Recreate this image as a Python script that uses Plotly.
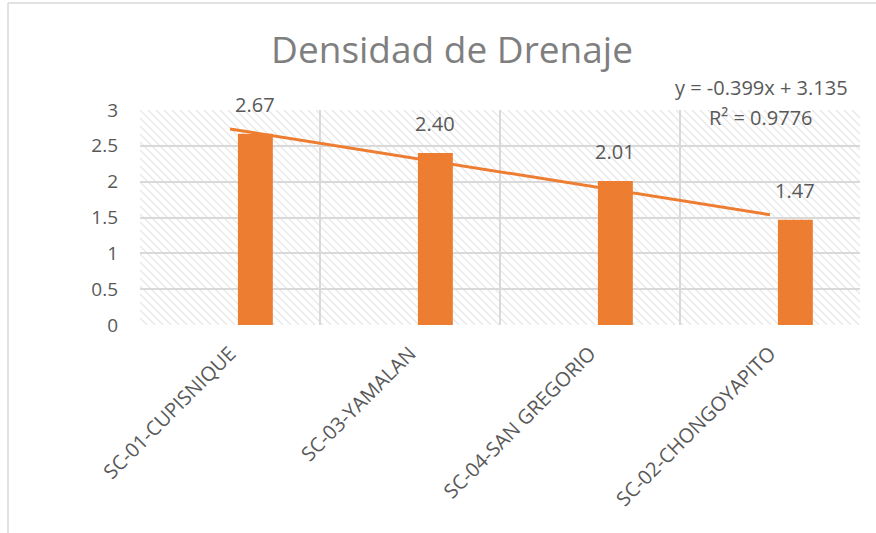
import numpy as np
import plotly.graph_objects as go

categories = ["SC-01-CUPISNIQUE", "SC-03-YAMALAN", "SC-04-SAN GREGORIO", "SC-02-CHONGOYAPITO"]
densidad = [2.67, 2.40, 2.01, 1.47]
y_ticks = [0, 0.5, 1, 1.5, 2, 2.5, 3]

ORANGE = "#ED7D31"
GRID = "#d9d9d9"
TXT = "#595959"
FONT = "Open Sans"

W, H = 876, 533
ML, MR, MT, MB = 140, 16, 110, 208
PW, PH = W - ML - MR, H - MT - MB

BAR_W, BAR_OFF = 0.194, 0.044

pos = np.arange(1, len(categories) + 1)
slope, intercept = np.polyfit(pos, densidad, 1)
fit = slope * pos + intercept
yarr = np.array(densidad)
r2 = 1 - np.sum((yarr - fit) ** 2) / np.sum((yarr - yarr.mean()) ** 2)

x_lo, x_hi = 0.5, len(categories) + 0.5
y_lo, y_hi = y_ticks[0], y_ticks[-1]


def px2x(px):
    return x_lo + px / PW * (x_hi - x_lo)


def py2y(py):
    return y_hi - py / PH * (y_hi - y_lo)


# diagonal hatch of the plot area (decoration), drawn below the gridlines
step = 8
segs = []
c = -PW
while c < PH:
    x0 = max(0, -c)
    x1 = min(PW, PH - c)
    if x1 > x0:
        segs.append(f"M{px2x(x0):.5f},{py2y(x0 + c):.5f} L{px2x(x1):.5f},{py2y(x1 + c):.5f}")
    c += step
hatch_path = " ".join(segs)

fig = go.Figure()

fig.add_trace(go.Bar(
    x=pos, y=densidad, width=BAR_W, offset=BAR_OFF,
    marker=dict(color=ORANGE, line=dict(width=0)),
    showlegend=False, hoverinfo="skip"))

fig.add_trace(go.Scatter(
    x=pos, y=fit, mode="lines", line=dict(color=ORANGE, width=3),
    showlegend=False, hoverinfo="skip"))

annotations = [
    dict(text=f"{v:.2f}", x=p + BAR_OFF + BAR_W / 2, y=v, xref="x", yref="y",
         xanchor="center", yanchor="bottom", yshift=14, showarrow=False,
         font=dict(family=FONT, size=20, color=TXT))
    for p, v in zip(pos, densidad)
]
annotations += [
    dict(text=f"y = {slope:.3f}x + {intercept:.3f}", xref="paper", yref="paper",
         x=(761 - ML) / PW, y=(H - MB - 87) / PH, xanchor="center", yanchor="middle",
         showarrow=False, font=dict(family=FONT, size=20, color=TXT)),
    dict(text=f"R² = {r2:.4f}", xref="paper", yref="paper",
         x=(761 - ML) / PW, y=(H - MB - 117) / PH, xanchor="center", yanchor="middle",
         showarrow=False, font=dict(family=FONT, size=20, color=TXT)),
]

fig.update_layout(
    width=W, height=H, autosize=False,
    margin=dict(l=ML, r=MR, t=MT, b=MB),
    paper_bgcolor="white", plot_bgcolor="white",
    font=dict(family=FONT, color=TXT),
    title=dict(text="Densidad de Drenaje", x=452 / W, xref="container", xanchor="center",
               y=1 - 50 / H, yref="container", yanchor="middle",
               font=dict(family=FONT, size=37, color="#7f7f7f")),
    xaxis=dict(range=[x_lo, x_hi], tickvals=list(pos), ticktext=categories,
               tickangle=-45, showgrid=False, zeroline=False, showline=False,
               ticks="", tickfont=dict(family=FONT, size=20, color=TXT),
               minor=dict(tickvals=list(np.arange(x_lo, x_hi + 0.01, 1.0)), showgrid=True,
                          gridcolor=GRID, gridwidth=2, ticks=""),
               ticklabelstandoff=12),
    yaxis=dict(range=[y_lo, y_hi], tickvals=y_ticks, showgrid=True, gridcolor=GRID,
               gridwidth=2, zeroline=False, showline=False, ticks="",
               tickfont=dict(family=FONT, size=19, color=TXT),
               ticklabelstandoff=21),
    annotations=annotations,
    shapes=[
        dict(type="path", xref="x", yref="y", path=hatch_path, layer="below",
             line=dict(color="#e4e4e4", width=1.1)),
        dict(type="line", xref="paper", yref="paper", x0=(8 - ML) / PW, x1=(8 - ML) / PW,
             y0=(H - MB - 540) / PH, y1=(H - MB - 3) / PH, line=dict(color=GRID, width=1.5)),
        dict(type="line", xref="paper", yref="paper", x0=(8 - ML) / PW, x1=(880 - ML) / PW,
             y0=(H - MB - 3) / PH, y1=(H - MB - 3) / PH, line=dict(color=GRID, width=1.5)),
    ],
)

fig.write_html("out.html", config={"displayModeBar": False},
               post_script="document.body.style.margin='0';document.body.style.overflow='hidden';")
